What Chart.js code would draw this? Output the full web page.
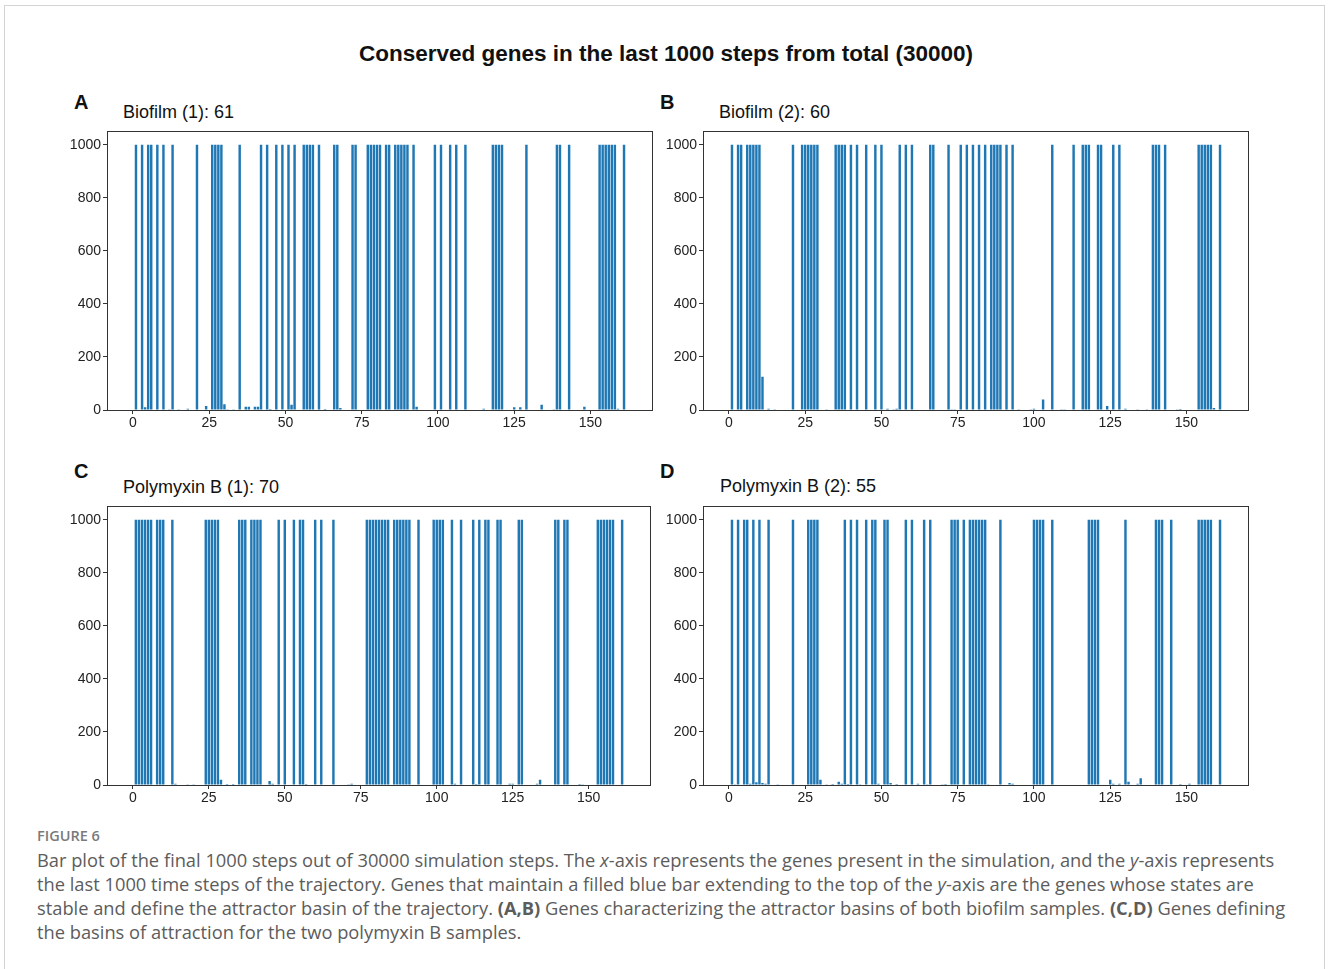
<!DOCTYPE html>
<html>
<head>
<meta charset="utf-8">
<script src="https://cdn.jsdelivr.net/npm/chart.js@4.4.1/dist/chart.umd.min.js"></script>
<style>
  body { margin:0; background:#fff; width:1328px; height:969px; overflow:hidden; position:relative; font-family:"Liberation Sans", Arial, sans-serif; }
  .frame { position:absolute; left:4px; top:5px; width:1321px; height:980px; border:1px solid #d4d4d4; box-sizing:border-box; }
  .abs { position:absolute; white-space:nowrap; }
  canvas { position:absolute; }
  .main-title { left:0; width:1332px; top:41px; text-align:center; font-weight:bold; font-size:22.5px; color:#111; }
  .letter { font-weight:bold; font-size:20px; color:#111; }
  .sub { font-size:18px; color:#111; }
  .figlabel { left:37px; top:826px; font-family:"Open Sans", sans-serif; font-size:14.5px; font-weight:600; color:#7a7a7a; }
  .caption { left:37px; top:848px; font-family:"Open Sans", sans-serif; font-size:18.3px; line-height:24px; color:#5c5c5c; }
</style>
</head>
<body>
<div class="frame"></div>
<div class="abs main-title">Conserved genes in the last 1000 steps from total (30000)</div>

<div class="abs letter" style="left:74px;top:91px;">A</div>
<div class="abs sub" style="left:123px;top:102px;">Biofilm (1): 61</div>
<div class="abs letter" style="left:660px;top:91px;">B</div>
<div class="abs sub" style="left:719px;top:102px;">Biofilm (2): 60</div>
<div class="abs letter" style="left:74px;top:460px;">C</div>
<div class="abs sub" style="left:123px;top:477px;">Polymyxin B (1): 70</div>
<div class="abs letter" style="left:660px;top:460px;">D</div>
<div class="abs sub" style="left:720px;top:476px;">Polymyxin B (2): 55</div>

<canvas id="chartA" width="610" height="314" style="left:55px;top:121px;"></canvas>
<canvas id="chartB" width="610" height="314" style="left:651px;top:121px;"></canvas>
<canvas id="chartC" width="610" height="314" style="left:55px;top:496px;"></canvas>
<canvas id="chartD" width="610" height="314" style="left:651px;top:496px;"></canvas>

<div class="abs figlabel">FIGURE 6</div>
<div class="abs caption">Bar plot of the final 1000 steps out of 30000 simulation steps. The <i>x</i>-axis represents the genes present in the simulation, and the <i>y</i>-axis represents<br>the last 1000 time steps of the trajectory. Genes that maintain a filled blue bar extending to the top of the <i>y</i>-axis are the genes whose states are<br>stable and define the attractor basin of the trajectory. <b>(A,B)</b> Genes characterizing the attractor basins of both biofilm samples. <b>(C,D)</b> Genes defining<br>the basins of attraction for the two polymyxin B samples.</div>

<script>
// genes 0..162 on the x-axis, steps (0..1000) on the y-axis
var geneCount = 163;
var xTicks = [0, 25, 50, 75, 100, 125, 150];
var yTicks = [0, 200, 400, 600, 800, 1000];

// genes that stay on for all 1000 steps (full bars)
var conservedA = [1,3,5,6,8,10,13,21,26,27,28,29,35,42,44,47,49,51,53,56,57,58,59,61,66,67,72,73,77,78,79,80,81,83,84,86,87,88,89,90,92,99,101,104,106,109,118,119,120,121,129,139,140,143,153,154,155,156,157,158,161];
var conservedB = [1,3,4,6,7,8,9,10,21,24,25,26,27,28,29,35,36,37,38,40,42,45,48,50,56,58,60,66,67,72,76,78,80,82,84,86,87,88,89,91,93,106,113,116,117,118,121,122,126,128,139,140,141,143,154,155,156,157,158,161];
var conservedC = [1,2,3,4,5,6,8,9,10,13,24,25,26,27,28,35,36,37,39,40,41,42,48,50,53,55,56,60,62,66,77,78,79,80,81,82,83,84,86,87,88,89,90,91,94,99,100,101,102,105,108,112,114,116,117,120,121,127,128,139,140,142,143,153,154,155,156,157,158,161];
var conservedD = [1,3,5,6,8,10,13,21,26,27,28,29,38,40,42,45,47,48,51,52,58,60,64,66,73,74,75,77,79,80,81,82,83,84,89,100,101,102,103,106,118,119,120,121,130,140,141,142,145,154,155,156,157,158,161];

// genes that are only on for some of the steps: [gene, steps]
var partialA = [[4,10],[12,3],[15,3],[18,5],[24,15],[30,22],[31,3],[33,3],[37,12],[38,12],[40,12],[41,12],[45,4],[52,20],[63,4],[68,8],[93,12],[115,5],[125,10],[127,10],[134,20],[138,3],[148,12],[159,5]];
var partialB = [[11,125],[13,5],[15,3],[32,3],[52,5],[54,3],[55,5],[73,3],[74,3],[95,3],[97,2],[99,3],[100,5],[103,40],[109,3],[110,3],[124,15],[130,5],[134,3],[137,3],[147,3],[148,4],[159,8]];
var partialC = [[14,5],[18,3],[20,3],[29,20],[31,4],[33,4],[45,15],[46,5],[57,4],[71,3],[72,5],[106,5],[113,4],[124,5],[125,5],[133,5],[134,20],[147,4],[148,3]];
var partialD = [[2,3],[7,5],[9,10],[11,8],[12,5],[16,3],[30,20],[32,3],[34,4],[36,12],[37,5],[39,4],[43,3],[49,5],[53,8],[55,4],[62,5],[65,3],[70,3],[71,4],[85,3],[92,8],[93,5],[125,20],[126,5],[128,5],[131,12],[134,5],[135,25],[148,4],[151,5]];

var barColor = '#1f77b4';
var tickFont = { family: '"Liberation Sans", Arial, sans-serif', size: 14 };

function buildPoints(conserved, partial) {
  var steps = [];
  for (var g = 0; g < geneCount; g++) steps.push(0);
  partial.forEach(function (p) { steps[p[0]] = p[1]; });
  conserved.forEach(function (g) { steps[g] = 1000; });
  return steps.map(function (v, g) { return { x: g, y: v }; });
}

// full box around the plot, like matplotlib spines
var boxPlugin = {
  id: 'box',
  afterDraw: function (chart) {
    var a = chart.chartArea, ctx = chart.ctx;
    ctx.save();
    ctx.strokeStyle = '#333';
    ctx.lineWidth = 1;
    ctx.strokeRect(Math.round(a.left) + 0.5, Math.round(a.top) + 0.5, Math.round(a.right - a.left) - 1, Math.round(a.bottom - a.top));
    ctx.restore();
  }
};

function plainLabel(v) { return String(v); }

function drawPanel(id, conserved, partial, rightPad) {
  new Chart(document.getElementById(id), {
    type: 'bar',
    data: {
      datasets: [{
        data: buildPoints(conserved, partial),
        backgroundColor: barColor,
        borderWidth: 0,
        barPercentage: 0.8,
        categoryPercentage: 1.0
      }]
    },
    options: {
      responsive: false,
      animation: false,
      devicePixelRatio: 1,
      layout: { padding: { top: 6, right: rightPad, left: 0, bottom: 0 } },
      plugins: { legend: { display: false }, tooltip: { enabled: false } },
      scales: {
        x: {
          type: 'linear',
          min: -8.5,
          max: 170.5,
          offset: false,
          afterBuildTicks: function (s) { s.ticks = xTicks.map(function (v) { return { value: v }; }); },
          afterFit: function (s) { s.height = 25; },
          grid: { offset: false, drawOnChartArea: false, drawTicks: true, tickLength: 4, color: '#333' },
          border: { display: false },
          ticks: { font: tickFont, color: '#222', padding: 1, maxRotation: 0, autoSkip: false, callback: plainLabel }
        },
        y: {
          min: 0,
          max: 1050,
          afterBuildTicks: function (s) { s.ticks = yTicks.map(function (v) { return { value: v }; }); },
          afterFit: function (s) { s.width = 52; },
          grid: { drawOnChartArea: false, drawTicks: true, tickLength: 4, color: '#333' },
          border: { display: false },
          ticks: { font: tickFont, color: '#222', padding: 2, autoSkip: false, callback: plainLabel }
        }
      }
    },
    plugins: [boxPlugin]
  });
}

drawPanel('chartA', conservedA, partialA, 12);
drawPanel('chartB', conservedB, partialB, 12);
drawPanel('chartC', conservedC, partialC, 14);
drawPanel('chartD', conservedD, partialD, 12);
</script>
</body>
</html>
